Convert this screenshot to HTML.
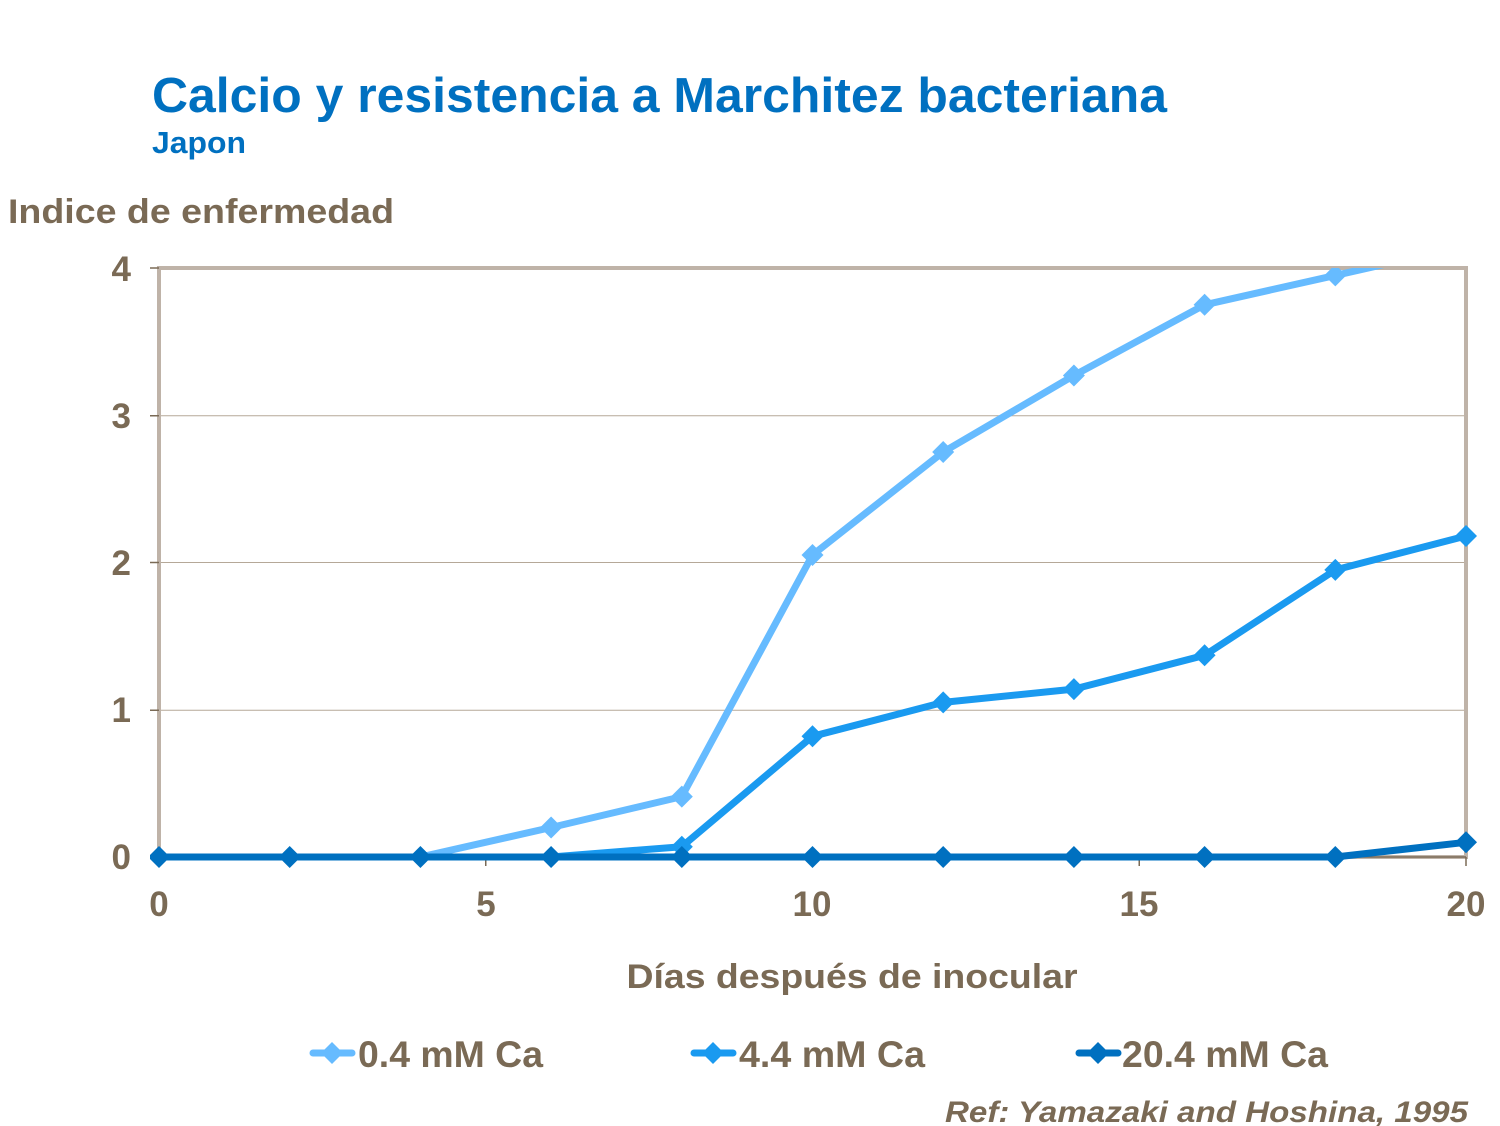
<!DOCTYPE html>
<html><head><meta charset="utf-8"><style>body{margin:0;background:#fff}svg{display:block}text{font-family:"Liberation Sans",Arial,sans-serif;font-weight:bold}</style></head>
<body>
<svg width="1500" height="1126" viewBox="0 0 1500 1126" xmlns="http://www.w3.org/2000/svg">
<defs><clipPath id="c"><rect x="150" y="268" width="1330" height="600"/></clipPath>
<path id="m" d="M0,-11 L11,0 L0,11 L-11,0Z"/></defs>
<text x="152" y="112" font-size="49" fill="#0070c0" textLength="1015" lengthAdjust="spacingAndGlyphs">Calcio y resistencia a Marchitez bacteriana</text>
<text x="152" y="153" font-size="31" fill="#0070c0" textLength="94" lengthAdjust="spacingAndGlyphs">Japon</text>
<text x="8" y="223" font-size="34" fill="#7a6a55" textLength="386" lengthAdjust="spacingAndGlyphs">Indice de enfermedad</text>
<g stroke="#b5a898" stroke-width="1">
<line x1="159" y1="415.75" x2="1466" y2="415.75"/><line x1="159" y1="562.5" x2="1466" y2="562.5"/><line x1="159" y1="710.25" x2="1466" y2="710.25"/>
</g>
<rect x="159" y="268" width="1307" height="589" fill="none" stroke="#bfb3a8" stroke-width="4"/>
<g stroke="#7a6a55" stroke-width="1.5">
<line x1="150" y1="268" x2="159" y2="268"/><line x1="150" y1="415.75" x2="159" y2="415.75"/><line x1="150" y1="562.5" x2="159" y2="562.5"/><line x1="150" y1="710.25" x2="159" y2="710.25"/><line x1="150" y1="857" x2="159" y2="857"/>
<line x1="159" y1="857" x2="1466" y2="857"/>
<line x1="159" y1="857" x2="159" y2="866"/><line x1="485.75" y1="857" x2="485.75" y2="866"/><line x1="812.5" y1="857" x2="812.5" y2="866"/><line x1="1139.25" y1="857" x2="1139.25" y2="866"/><line x1="1466" y1="857" x2="1466" y2="866"/>
</g>
<g font-size="35" fill="#7a6a55" text-anchor="end">
<text x="131" y="281">4</text><text x="131" y="428">3</text><text x="131" y="575">2</text><text x="131" y="722">1</text><text x="131" y="869">0</text>
</g>
<g font-size="35" fill="#7a6a55" text-anchor="middle">
<text x="159" y="916">0</text><text x="486" y="916">5</text><text x="812" y="916">10</text><text x="1139" y="916">15</text><text x="1466" y="916">20</text>
</g>
<text x="852" y="988" font-size="34" fill="#7a6a55" text-anchor="middle" textLength="451" lengthAdjust="spacingAndGlyphs">Días después de inocular</text>
<g clip-path="url(#c)">
<g fill="none" stroke-width="7" stroke-linejoin="round">
<polyline stroke="#66bbff" points="159,857 289.7,857 420.4,857 551.1,827.5 681.8,796.6 812.5,555 943.2,452 1073.9,375.5 1204.6,304.8 1335.3,275.4 1466,246"/>
<polyline stroke="#1a9af0" points="159,857 289.7,857 420.4,857 551.1,857 681.8,846.7 812.5,736.3 943.2,702.4 1073.9,689.1 1204.6,655.3 1335.3,569.9 1466,536"/>
<polyline stroke="#0070c0" points="159,857 289.7,857 420.4,857 551.1,857 681.8,857 812.5,857 943.2,857 1073.9,857 1204.6,857 1335.3,857 1466,842.3"/>
</g>
<g fill="#66bbff">
<use href="#m" x="551.1" y="827.5"/><use href="#m" x="681.8" y="796.6"/><use href="#m" x="812.5" y="555"/><use href="#m" x="943.2" y="452"/><use href="#m" x="1073.9" y="375.5"/><use href="#m" x="1204.6" y="304.8"/><use href="#m" x="1335.3" y="275.4"/>
</g>
<g fill="#1a9af0">
<use href="#m" x="681.8" y="846.7"/><use href="#m" x="812.5" y="736.3"/><use href="#m" x="943.2" y="702.4"/><use href="#m" x="1073.9" y="689.1"/><use href="#m" x="1204.6" y="655.3"/><use href="#m" x="1335.3" y="569.9"/><use href="#m" x="1466" y="536"/>
</g>
<g fill="#0070c0">
<use href="#m" x="159" y="857"/><use href="#m" x="289.7" y="857"/><use href="#m" x="420.4" y="857"/><use href="#m" x="551.1" y="857"/><use href="#m" x="681.8" y="857"/><use href="#m" x="812.5" y="857"/><use href="#m" x="943.2" y="857"/><use href="#m" x="1073.9" y="857"/><use href="#m" x="1204.6" y="857"/><use href="#m" x="1335.3" y="857"/><use href="#m" x="1466" y="842.3"/>
</g>
</g>
<g stroke-width="7" stroke-linecap="round">
<line x1="313" y1="1053" x2="352" y2="1053" stroke="#66bbff"/><line x1="694" y1="1053" x2="733" y2="1053" stroke="#1a9af0"/><line x1="1079" y1="1053" x2="1118" y2="1053" stroke="#0070c0"/>
</g>
<use href="#m" x="332" y="1053" fill="#66bbff"/><use href="#m" x="713" y="1053" fill="#1a9af0"/><use href="#m" x="1098" y="1053" fill="#0070c0"/>
<g font-size="37" fill="#7a6a55">
<text x="358" y="1067" textLength="185" lengthAdjust="spacingAndGlyphs">0.4 mM Ca</text><text x="739" y="1067" textLength="186" lengthAdjust="spacingAndGlyphs">4.4 mM Ca</text><text x="1122" y="1067" textLength="206" lengthAdjust="spacingAndGlyphs">20.4 mM Ca</text>
</g>
<text x="1468" y="1122" font-size="30" font-style="italic" fill="#7a6a55" text-anchor="end" textLength="523" lengthAdjust="spacingAndGlyphs">Ref: Yamazaki and Hoshina, 1995</text>
</svg>
</body></html>
